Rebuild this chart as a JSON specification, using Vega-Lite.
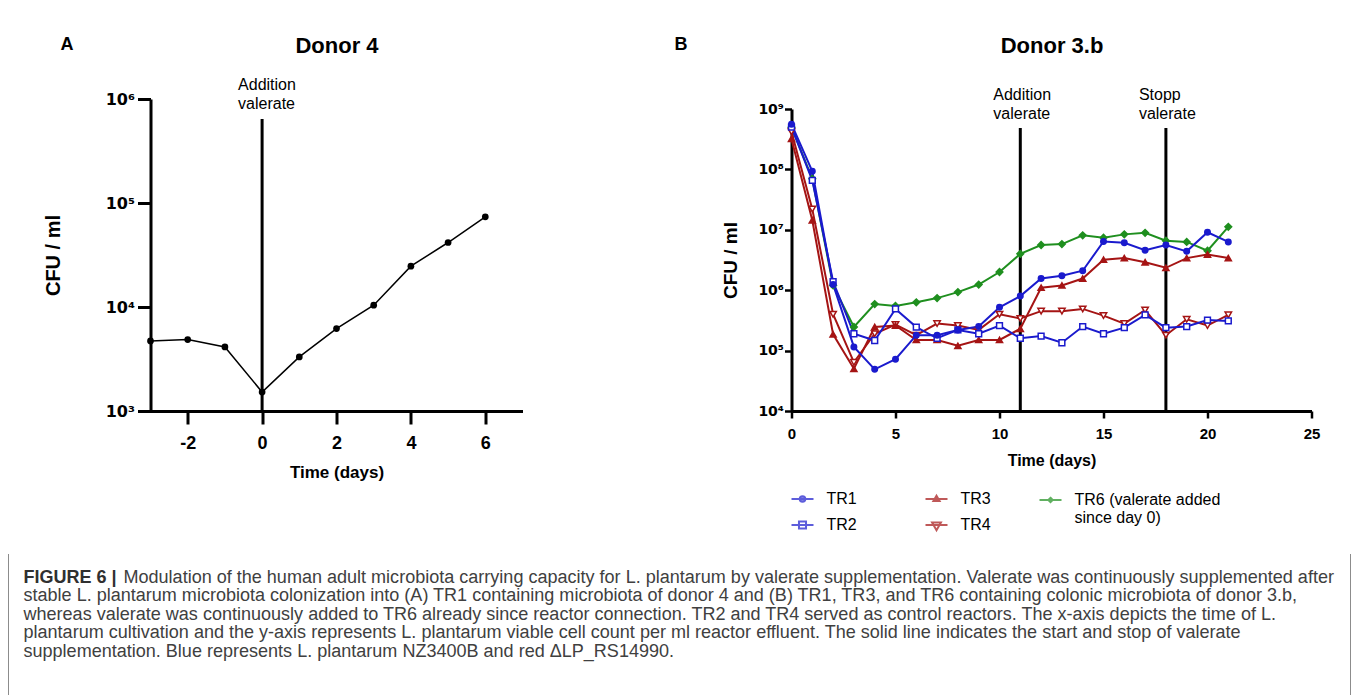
{
  "$schema": "https://vega.github.io/schema/vega-lite/v6.json",
  "padding": {"left": 7.5, "top": 34, "right": 0, "bottom": 0},
  "background": "white",
  "config": {"view": {"stroke": null}, "font": "Liberation Sans", "axis": {"grid": false}},
  "datasets": {
    "donor4": [
      {"day": -3, "cfu": 4720}, {"day": -2, "cfu": 4860}, {"day": -1, "cfu": 4130},
      {"day": 0, "cfu": 1520}, {"day": 1, "cfu": 3310}, {"day": 2, "cfu": 6200},
      {"day": 3, "cfu": 10400}, {"day": 4, "cfu": 24700}, {"day": 5, "cfu": 41700},
      {"day": 6, "cfu": 73600}
    ],
    "events4": [{"day": 0, "label": "Addition\nvalerate"}],
    "events3b": [{"day": 11, "label": "Addition\nvalerate"}, {"day": 18, "label": "Stopp\nvalerate"}],
    "donor3b": [
      {"series": "TR6", "day": 0, "cfu": 5.0e8}, {"series": "TR6", "day": 1, "cfu": 7.0e7}, {"series": "TR6", "day": 2, "cfu": 1.2e6},
      {"series": "TR6", "day": 3, "cfu": 2.46e5}, {"series": "TR6", "day": 4, "cfu": 5.9e5}, {"series": "TR6", "day": 5, "cfu": 5.5e5},
      {"series": "TR6", "day": 6, "cfu": 6.3e5}, {"series": "TR6", "day": 7, "cfu": 7.4e5}, {"series": "TR6", "day": 8, "cfu": 9.3e5},
      {"series": "TR6", "day": 9, "cfu": 1.24e6}, {"series": "TR6", "day": 10, "cfu": 2.0e6}, {"series": "TR6", "day": 11, "cfu": 4.0e6},
      {"series": "TR6", "day": 12, "cfu": 5.6e6}, {"series": "TR6", "day": 13, "cfu": 5.8e6}, {"series": "TR6", "day": 14, "cfu": 8.1e6},
      {"series": "TR6", "day": 15, "cfu": 7.4e6}, {"series": "TR6", "day": 16, "cfu": 8.4e6}, {"series": "TR6", "day": 17, "cfu": 8.9e6},
      {"series": "TR6", "day": 18, "cfu": 6.6e6}, {"series": "TR6", "day": 19, "cfu": 6.3e6}, {"series": "TR6", "day": 20, "cfu": 4.5e6},
      {"series": "TR6", "day": 21, "cfu": 1.12e7},
      {"series": "TR4", "day": 0, "cfu": 4.2e8}, {"series": "TR4", "day": 1, "cfu": 2.2e7}, {"series": "TR4", "day": 2, "cfu": 4.0e5},
      {"series": "TR4", "day": 3, "cfu": 6.4e4}, {"series": "TR4", "day": 4, "cfu": 1.9e5}, {"series": "TR4", "day": 5, "cfu": 2.7e5},
      {"series": "TR4", "day": 6, "cfu": 1.8e5}, {"series": "TR4", "day": 7, "cfu": 2.8e5}, {"series": "TR4", "day": 8, "cfu": 2.6e5},
      {"series": "TR4", "day": 9, "cfu": 2.2e5}, {"series": "TR4", "day": 10, "cfu": 4.0e5}, {"series": "TR4", "day": 11, "cfu": 3.4e5},
      {"series": "TR4", "day": 12, "cfu": 4.5e5}, {"series": "TR4", "day": 13, "cfu": 4.5e5}, {"series": "TR4", "day": 14, "cfu": 4.9e5},
      {"series": "TR4", "day": 15, "cfu": 3.8e5}, {"series": "TR4", "day": 16, "cfu": 2.8e5}, {"series": "TR4", "day": 17, "cfu": 4.7e5},
      {"series": "TR4", "day": 18, "cfu": 1.8e5}, {"series": "TR4", "day": 19, "cfu": 3.3e5}, {"series": "TR4", "day": 20, "cfu": 2.6e5},
      {"series": "TR4", "day": 21, "cfu": 3.9e5},
      {"series": "TR3", "day": 0, "cfu": 3.2e8}, {"series": "TR3", "day": 1, "cfu": 1.44e7}, {"series": "TR3", "day": 2, "cfu": 1.86e5},
      {"series": "TR3", "day": 3, "cfu": 5.0e4}, {"series": "TR3", "day": 4, "cfu": 2.46e5}, {"series": "TR3", "day": 5, "cfu": 2.6e5},
      {"series": "TR3", "day": 6, "cfu": 1.5e5}, {"series": "TR3", "day": 7, "cfu": 1.5e5}, {"series": "TR3", "day": 8, "cfu": 1.2e5},
      {"series": "TR3", "day": 9, "cfu": 1.5e5}, {"series": "TR3", "day": 10, "cfu": 1.5e5}, {"series": "TR3", "day": 11, "cfu": 2.3e5},
      {"series": "TR3", "day": 12, "cfu": 1.1e6}, {"series": "TR3", "day": 13, "cfu": 1.2e6}, {"series": "TR3", "day": 14, "cfu": 1.56e6},
      {"series": "TR3", "day": 15, "cfu": 3.2e6}, {"series": "TR3", "day": 16, "cfu": 3.4e6}, {"series": "TR3", "day": 17, "cfu": 2.9e6},
      {"series": "TR3", "day": 18, "cfu": 2.35e6}, {"series": "TR3", "day": 19, "cfu": 3.4e6}, {"series": "TR3", "day": 20, "cfu": 3.9e6},
      {"series": "TR3", "day": 21, "cfu": 3.4e6},
      {"series": "TR2", "day": 0, "cfu": 5.0e8}, {"series": "TR2", "day": 1, "cfu": 6.6e7}, {"series": "TR2", "day": 2, "cfu": 1.39e6},
      {"series": "TR2", "day": 3, "cfu": 1.9e5}, {"series": "TR2", "day": 4, "cfu": 1.47e5}, {"series": "TR2", "day": 5, "cfu": 4.9e5},
      {"series": "TR2", "day": 6, "cfu": 2.45e5}, {"series": "TR2", "day": 7, "cfu": 1.6e5}, {"series": "TR2", "day": 8, "cfu": 2.2e5},
      {"series": "TR2", "day": 9, "cfu": 1.9e5}, {"series": "TR2", "day": 10, "cfu": 2.6e5}, {"series": "TR2", "day": 11, "cfu": 1.6e5},
      {"series": "TR2", "day": 12, "cfu": 1.74e5}, {"series": "TR2", "day": 13, "cfu": 1.35e5}, {"series": "TR2", "day": 14, "cfu": 2.5e5},
      {"series": "TR2", "day": 15, "cfu": 1.9e5}, {"series": "TR2", "day": 16, "cfu": 2.4e5}, {"series": "TR2", "day": 17, "cfu": 3.9e5},
      {"series": "TR2", "day": 18, "cfu": 2.4e5}, {"series": "TR2", "day": 19, "cfu": 2.5e5}, {"series": "TR2", "day": 20, "cfu": 3.2e5},
      {"series": "TR2", "day": 21, "cfu": 3.1e5},
      {"series": "TR1", "day": 0, "cfu": 5.6e8}, {"series": "TR1", "day": 1, "cfu": 9.3e7}, {"series": "TR1", "day": 2, "cfu": 1.24e6},
      {"series": "TR1", "day": 3, "cfu": 1.15e5}, {"series": "TR1", "day": 4, "cfu": 4.9e4}, {"series": "TR1", "day": 5, "cfu": 7.2e4},
      {"series": "TR1", "day": 6, "cfu": 1.8e5}, {"series": "TR1", "day": 7, "cfu": 1.8e5}, {"series": "TR1", "day": 8, "cfu": 2.2e5},
      {"series": "TR1", "day": 9, "cfu": 2.5e5}, {"series": "TR1", "day": 10, "cfu": 5.2e5}, {"series": "TR1", "day": 11, "cfu": 8.0e5},
      {"series": "TR1", "day": 12, "cfu": 1.56e6}, {"series": "TR1", "day": 13, "cfu": 1.73e6}, {"series": "TR1", "day": 14, "cfu": 2.1e6},
      {"series": "TR1", "day": 15, "cfu": 6.4e6}, {"series": "TR1", "day": 16, "cfu": 6.1e6}, {"series": "TR1", "day": 17, "cfu": 4.6e6},
      {"series": "TR1", "day": 18, "cfu": 5.6e6}, {"series": "TR1", "day": 19, "cfu": 4.4e6}, {"series": "TR1", "day": 20, "cfu": 9.1e6},
      {"series": "TR1", "day": 21, "cfu": 6.3e6}
    ],
    "caption": [
      {"line": 1, "seg": "head", "text": "FIGURE 6 |"},
      {"line": 1, "seg": "rest", "text": "Modulation of the human adult microbiota carrying capacity for L. plantarum by valerate supplementation. Valerate was continuously supplemented after"},
      {"line": 2, "seg": "body", "text": "stable L. plantarum microbiota colonization into (A) TR1 containing microbiota of donor 4 and (B) TR1, TR3, and TR6 containing colonic microbiota of donor 3.b,"},
      {"line": 3, "seg": "body", "text": "whereas valerate was continuously added to TR6 already since reactor connection. TR2 and TR4 served as control reactors. The x-axis depicts the time of L."},
      {"line": 4, "seg": "body", "text": "plantarum cultivation and the y-axis represents L. plantarum viable cell count per ml reactor effluent. The solid line indicates the start and stop of valerate"},
      {"line": 5, "seg": "body", "text": "supplementation. Blue represents L. plantarum NZ3400B and red ΔLP_RS14990."}
    ]
  },
  "spacing": 18,
  "vconcat": [
    {
      "spacing": 152,
      "hconcat": [
        {
          "title": {"text": "A", "anchor": "start", "frame": "group", "dx": -90, "offset": -34, "fontSize": 18, "fontWeight": "bold", "font": "Liberation Sans", "color": "black", "baseline": "alphabetic"},
          "width": 372,
          "height": 312,
          "resolve": {"axis": {"x": "independent"}},
          "layer": [
            {
              "data": {"name": "events4"},
              "mark": {"type": "rule", "strokeWidth": 3, "color": "black"},
              "encoding": {
                "x": {"field": "day", "type": "quantitative", "axis": {"orient": "top", "title": "Donor 4", "labels": false, "ticks": false, "domain": false, "grid": false, "titleFontSize": 22, "titleFontWeight": "bold", "titleFont": "Liberation Sans", "titleColor": "black", "titlePadding": 47, "titleBaseline": "alphabetic"}},
                "y": {"datum": 642000, "type": "quantitative"},
                "y2": {"datum": 1000}
              }
            },
            {
              "data": {"name": "donor4"},
              "mark": {"type": "line", "color": "black", "strokeWidth": 1.5},
              "encoding": {
                "x": {"field": "day", "type": "quantitative", "scale": {"domain": [-3, 7], "nice": false, "zero": false},
                  "axis": {"orient": "bottom", "values": [-2, 0, 2, 4, 6], "labelExpr": "'' + datum.value", "title": "Time (days)", "tickSize": 13, "tickWidth": 3, "domainWidth": 3, "domainColor": "black", "tickColor": "black", "labelFontSize": 18, "labelFontWeight": "bold", "labelColor": "black", "labelPadding": 10, "labelFlush": false, "titleFontSize": 17, "titleFontWeight": "bold", "titleColor": "black", "titlePadding": 12}},
                "y": {"field": "cfu", "type": "quantitative", "scale": {"type": "log", "domain": [1000, 1000000], "nice": false},
                  "axis": {"values": [1000, 10000, 100000, 1000000], "labelExpr": "'10' + ['⁰','¹','²','³','⁴','⁵','⁶','⁷','⁸','⁹'][round(log(datum.value)/LN10)]", "title": "CFU / ml", "tickSize": 13, "tickWidth": 3, "domainWidth": 3, "domainColor": "black", "tickColor": "black", "labelFont": "DejaVu Sans", "labelFontSize": 16, "labelFontWeight": "bold", "labelColor": "black", "labelPadding": 3, "titleFontSize": 20, "titleFontWeight": "bold", "titleColor": "black", "titlePadding": 42}}
              }
            },
            {
              "data": {"name": "donor4"},
              "mark": {"type": "point", "shape": "circle", "filled": true, "color": "black", "size": 45, "opacity": 1},
              "encoding": {
                "x": {"field": "day", "type": "quantitative", "axis": null},
                "y": {"field": "cfu", "type": "quantitative", "title": "CFU / ml"}
              }
            },
            {
              "data": {"name": "events4"},
              "mark": {"type": "text", "align": "left", "baseline": "alphabetic", "dx": -24, "fontSize": 16, "font": "Liberation Sans", "color": "black", "lineBreak": "\n", "lineHeight": 19},
              "encoding": {
                "x": {"field": "day", "type": "quantitative", "axis": null},
                "y": {"datum": 1220000, "type": "quantitative"},
                "text": {"field": "label"}
              }
            }
          ]
        },
        {
          "title": {"text": "B", "anchor": "start", "frame": "group", "dx": -117, "offset": -34, "fontSize": 18, "fontWeight": "bold", "font": "Liberation Sans", "color": "black", "baseline": "alphabetic"},
          "width": 520,
          "height": 312,
          "resolve": {"scale": {"color": "independent", "shape": "independent", "fill": "independent", "stroke": "independent", "size": "independent"}, "axis": {"x": "independent"}},
          "layer": [
            {
              "data": {"name": "events3b"},
              "mark": {"type": "rule", "strokeWidth": 3, "color": "black"},
              "encoding": {
                "x": {"field": "day", "type": "quantitative", "axis": {"orient": "top", "title": "Donor 3.b", "labels": false, "ticks": false, "domain": false, "grid": false, "titleFontSize": 22, "titleFontWeight": "bold", "titleFont": "Liberation Sans", "titleColor": "black", "titlePadding": 47, "titleBaseline": "alphabetic"}},
                "y": {"datum": 484000000, "type": "quantitative"},
                "y2": {"datum": 10000}
              }
            },
            {
              "data": {"name": "donor3b"},
              "mark": {"type": "line", "strokeWidth": 2},
              "encoding": {
                "x": {"field": "day", "type": "quantitative", "scale": {"domain": [0, 25], "nice": false, "zero": false},
                  "axis": {"orient": "bottom", "values": [0, 5, 10, 15, 20, 25], "title": "Time (days)", "tickSize": 7, "tickWidth": 2.5, "domainWidth": 3, "domainColor": "black", "tickColor": "black", "labelFontSize": 15, "labelFontWeight": "bold", "labelColor": "black", "labelPadding": 8, "labelFlush": false, "titleFontSize": 16, "titleFontWeight": "bold", "titleColor": "black", "titlePadding": 11}},
                "y": {"field": "cfu", "type": "quantitative", "scale": {"type": "log", "domain": [10000, 1000000000], "nice": false, "range": [312, 10]},
                  "axis": {"values": [10000, 100000, 1000000, 10000000, 100000000, 1000000000], "labelExpr": "'10' + ['⁰','¹','²','³','⁴','⁵','⁶','⁷','⁸','⁹'][round(log(datum.value)/LN10)]", "title": "CFU / ml", "tickSize": 7, "tickWidth": 2.5, "domainWidth": 3, "domainColor": "black", "tickColor": "black", "labelFont": "DejaVu Sans", "labelFontSize": 14, "labelFontWeight": "bold", "labelColor": "black", "labelPadding": 1, "titleFontSize": 19, "titleFontWeight": "bold", "titleColor": "black", "titlePadding": 17}},
                "color": {"field": "series", "type": "nominal", "scale": {"domain": ["TR1", "TR2", "TR3", "TR4", "TR6"], "range": ["#1a1acd", "#1a1acd", "#a51414", "#a51414", "#1f8f1f"]}, "legend": null},
                "detail": {"field": "series"}
              }
            },
            {
              "data": {"name": "donor3b"},
              "mark": {"type": "point", "strokeWidth": 1.5, "opacity": 1},
              "encoding": {
                "x": {"field": "day", "type": "quantitative", "axis": null},
                "y": {"field": "cfu", "type": "quantitative", "title": "CFU / ml"},
                "shape": {"field": "series", "type": "nominal", "scale": {"domain": ["TR1", "TR2", "TR3", "TR4", "TR6"], "range": ["circle", "square", "triangle-up", "triangle-down", "diamond"]}, "legend": null},
                "stroke": {"field": "series", "type": "nominal", "scale": {"domain": ["TR1", "TR2", "TR3", "TR4", "TR6"], "range": ["#1a1acd", "#1a1acd", "#a51414", "#a51414", "#1f8f1f"]}, "legend": null},
                "fill": {"field": "series", "type": "nominal", "scale": {"domain": ["TR1", "TR2", "TR3", "TR4", "TR6"], "range": ["#1a1acd", "white", "#a51414", "white", "#1f8f1f"]}, "legend": null},
                "size": {"field": "series", "type": "nominal", "scale": {"domain": ["TR1", "TR2", "TR3", "TR4", "TR6"], "range": [30, 45, 30, 70, 18]}, "legend": null}
              }
            },
            {
              "data": {"name": "events3b"},
              "mark": {"type": "text", "align": "left", "baseline": "alphabetic", "dx": -27, "fontSize": 16, "font": "Liberation Sans", "color": "black", "lineBreak": "\n", "lineHeight": 19},
              "encoding": {
                "x": {"field": "day", "type": "quantitative", "axis": null},
                "y": {"datum": 1410000000, "type": "quantitative"},
                "text": {"field": "label"}
              }
            },
            {
              "data": {"values": []},
              "mark": {"type": "point"},
              "encoding": {
                "shape": {"field": "series", "type": "nominal",
                  "scale": {"domain": ["TR1", "TR2", "TR3", "TR4"], "range": ["M-1,0H1M0.25,0A0.25,0.25,0,1,1,-0.25,0A0.25,0.25,0,1,1,0.25,0Z", "M-1,0H1M-0.32,-0.32H0.32V0.32H-0.32Z", "M-1,0H1M0,-0.3L0.28,0.18H-0.28Z", "M-1,0H1M-0.4,-0.22H0.4L0,0.48Z"]},
                  "legend": {"title": null, "orient": "none", "legendX": -1, "legendY": 388, "columns": 2, "columnPadding": 64, "rowPadding": 6, "symbolSize": 484, "symbolStrokeWidth": 2, "labelOffset": 12, "labelFontSize": 16, "labelFont": "Liberation Sans", "labelColor": "black", "padding": 0}},
                "stroke": {"field": "series", "type": "nominal",
                  "scale": {"domain": ["TR1", "TR2", "TR3", "TR4"], "range": ["#1a1acd", "#1a1acd", "#a51414", "#a51414"]},
                  "legend": {"title": null, "orient": "none", "legendX": -1, "legendY": 388, "columns": 2, "columnPadding": 64, "rowPadding": 6, "symbolSize": 484, "symbolStrokeWidth": 2, "labelOffset": 12, "labelFontSize": 16, "labelFont": "Liberation Sans", "labelColor": "black", "padding": 0}},
                "fill": {"field": "series", "type": "nominal",
                  "scale": {"domain": ["TR1", "TR2", "TR3", "TR4"], "range": ["#1a1acd", "white", "#a51414", "white"]},
                  "legend": {"title": null, "orient": "none", "legendX": -1, "legendY": 388, "columns": 2, "columnPadding": 64, "rowPadding": 6, "symbolSize": 484, "symbolStrokeWidth": 2, "labelOffset": 12, "labelFontSize": 16, "labelFont": "Liberation Sans", "labelColor": "black", "padding": 0}}
              }
            },
            {
              "data": {"values": []},
              "mark": {"type": "point"},
              "encoding": {
                "shape": {"field": "series", "type": "nominal",
                  "scale": {"domain": ["TR6"], "range": ["M-1,0H1M0,-0.2L0.2,0L0,0.2L-0.2,0Z"]},
                  "legend": {"title": null, "orient": "none", "legendX": 247, "legendY": 389, "symbolSize": 484, "symbolStrokeWidth": 2, "labelOffset": 12, "labelFontSize": 16, "labelFont": "Liberation Sans", "labelColor": "black", "labelLimit": 400, "padding": 0, "labelExpr": "['TR6 (valerate added', 'since day 0)']", "encode": {"labels": {"update": {"lineHeight": {"value": 19}}}}}},
                "stroke": {"field": "series", "type": "nominal",
                  "scale": {"domain": ["TR6"], "range": ["#1f8f1f"]},
                  "legend": {"title": null, "orient": "none", "legendX": 247, "legendY": 389, "symbolSize": 484, "symbolStrokeWidth": 2, "labelOffset": 12, "labelFontSize": 16, "labelFont": "Liberation Sans", "labelColor": "black", "labelLimit": 400, "padding": 0, "labelExpr": "['TR6 (valerate added', 'since day 0)']", "encode": {"labels": {"update": {"lineHeight": {"value": 19}}}}}},
                "fill": {"field": "series", "type": "nominal",
                  "scale": {"domain": ["TR6"], "range": ["#1f8f1f"]},
                  "legend": {"title": null, "orient": "none", "legendX": 247, "legendY": 389, "symbolSize": 484, "symbolStrokeWidth": 2, "labelOffset": 12, "labelFontSize": 16, "labelFont": "Liberation Sans", "labelColor": "black", "labelLimit": 400, "padding": 0, "labelExpr": "['TR6 (valerate added', 'since day 0)']", "encode": {"labels": {"update": {"lineHeight": {"value": 19}}}}}}
              }
            }
          ]
        }
      ]
    },
    {
      "width": 1200,
      "height": 141,
      "layer": [
        {
          "data": {"values": [{"edge": 0}, {"edge": 1}]},
          "mark": {"type": "rule", "color": "#8c8c8c", "strokeWidth": 1},
          "encoding": {
            "x": {"field": "edge", "type": "quantitative", "scale": {"domain": [0, 1], "range": [-142, 1200]}, "axis": null}
          }
        },
        {
          "data": {"name": "caption"},
          "transform": [{"filter": "datum.seg === 'head'"}],
          "mark": {"type": "text", "align": "left", "baseline": "alphabetic", "font": "Liberation Sans", "fontWeight": "bold", "fontSize": 18, "color": "#303030", "dx": 15},
          "encoding": {
            "x": {"datum": 0, "type": "quantitative", "axis": null},
            "y": {"field": "line", "type": "quantitative", "scale": {"domain": [1, 5], "range": [29, 102.6]}, "axis": null},
            "text": {"field": "text"}
          }
        },
        {
          "data": {"name": "caption"},
          "transform": [{"filter": "datum.seg === 'rest'"}],
          "mark": {"type": "text", "align": "left", "baseline": "alphabetic", "font": "Liberation Sans", "fontSize": 18.05, "color": "#404040", "dx": 115},
          "encoding": {
            "x": {"datum": 0, "type": "quantitative", "axis": null},
            "y": {"field": "line", "type": "quantitative", "scale": {"domain": [1, 5], "range": [29, 102.6]}, "axis": null},
            "text": {"field": "text"}
          }
        },
        {
          "data": {"name": "caption"},
          "transform": [{"filter": "datum.seg === 'body'"}],
          "mark": {"type": "text", "align": "left", "baseline": "alphabetic", "font": "Liberation Sans", "fontSize": 18.05, "color": "#404040", "dx": 15},
          "encoding": {
            "x": {"datum": 0, "type": "quantitative", "axis": null},
            "y": {"field": "line", "type": "quantitative", "scale": {"domain": [1, 5], "range": [29, 102.6]}, "axis": null},
            "text": {"field": "text"}
          }
        }
      ]
    }
  ]
}
